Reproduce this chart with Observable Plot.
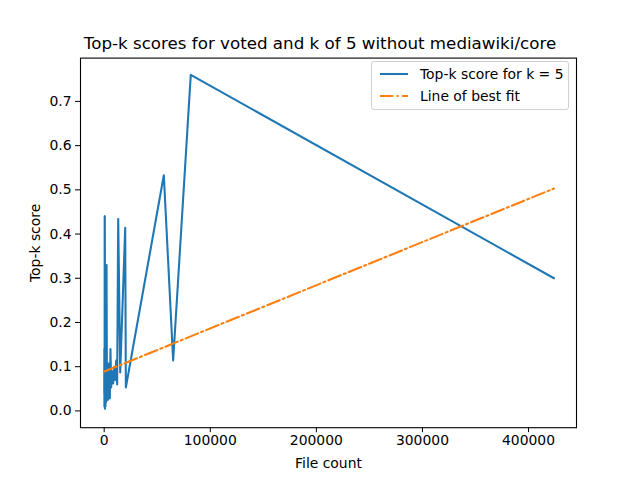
<!DOCTYPE html>
<html>
<head>
<meta charset="utf-8">
<script src="https://cdn.jsdelivr.net/npm/d3@7"></script>
<script src="https://cdn.jsdelivr.net/npm/@observablehq/plot@0.6"></script>
<style>
  body { margin: 0; background: white; font-family: "DejaVu Sans", sans-serif; }
  #wrap { position: relative; width: 640px; }
  #title { height: 50px; box-sizing: border-box; padding-top: 35px; text-align: center; font-size: 16.7px; line-height: 1; color: black; }
  #legend { position: absolute; left: 371px; top: 61px; width: 198px; height: 49px; box-sizing: border-box;
    border: 1px solid #d0d0d0; border-radius: 3px; background: rgba(255,255,255,0.8); font-size: 13.9px; color: black; }
  .row { position: absolute; left: 8px; display: flex; align-items: center; }
  .row span { margin-left: 12px; }
</style>
</head>
<body>
<div id="wrap">
  <div id="title">Top-k scores for voted and k of 5 without mediawiki/core</div>
  <div id="chart"></div>
  <div id="legend">
    <div class="row" style="top:4px"><svg width="28" height="16"><line x1="0" x2="28" y1="8" y2="8" stroke="#1f77b4" stroke-width="2.08"/></svg><span>Top-k score for k = 5</span></div>
    <div class="row" style="top:26px"><svg width="28" height="16"><line x1="0" x2="28" y1="8" y2="8" stroke="#ff7f0e" stroke-width="2.08" stroke-dasharray="13.3 3.3 2.1 3.3"/></svg><span>Line of best fit</span></div>
  </div>
</div>
<script>
// valeurs (nombre de fichiers -> score top-k)
const fileCounts = [50, 120, 200, 300, 380, 450, 520, 600, 700, 800, 900, 1000, 1200, 1500, 1900, 2200, 2600, 3000, 3500, 4000,
  4300, 4800, 5300, 5900, 6600, 7400, 8500, 9500, 10500, 11300, 12200, 13200, 15100, 19800, 20400, 56200, 65000, 81600, 424000]
const scores = [0.04, 0.14, 0.01, 0.12, 0.02, 0.44, 0.01, 0.44, 0.005, 0.06, 0.02, 0.09, 0.01, 0.07, 0.02, 0.33, 0.03, 0.09, 0.025, 0.107,
  0.03, 0.06, 0.028, 0.14, 0.053, 0.09, 0.062, 0.10, 0.07, 0.114, 0.06, 0.434, 0.087, 0.414, 0.053, 0.533, 0.114, 0.76, 0.30]

// droite de régression (extrémités lues)
const fitX = [50, 424000]
const fitY = [0.089, 0.503]

const xTicks = [0, 100000, 200000, 300000, 400000]
const yTicks = [0, 0.1, 0.2, 0.3, 0.4, 0.5, 0.6, 0.7]

const data = fileCounts.map((f, i) => ({files: f, score: scores[i]}))
const fit = fitX.map((f, i) => ({files: f, score: fitY[i]}))

let chart = Plot.plot({
  width: 640,
  height: 430,
  marginLeft: 80,
  marginRight: 64,
  marginTop: 7.6,
  marginBottom: 52.8,
  x: {domain: [-22340, 445210], ticks: xTicks, tickFormat: d3.format('d'), tickSize: 5, tickPadding: 2,
      label: 'File count', labelAnchor: 'center', labelArrow: 'none', labelOffset: 40},
  y: {domain: [-0.038, 0.798], ticks: yTicks, tickFormat: d3.format('.1f'), tickSize: 5, tickPadding: 4,
      label: 'Top-k score', labelAnchor: 'center', labelArrow: 'none', labelOffset: 50},
  style: {fontFamily: '"DejaVu Sans", sans-serif', fontSize: '13.9px', color: 'black', background: 'white', overflow: 'visible'},
  marks: [
    Plot.line(data, {x: 'files', y: 'score', stroke: '#1f77b4', strokeWidth: 2.08}),
    Plot.line(fit, {x: 'files', y: 'score', stroke: '#ff7f0e', strokeWidth: 2.08, strokeDasharray: '13.3 3.3 2.1 3.3'}),
    Plot.frame({stroke: 'black', strokeWidth: 1.1})
  ]
})
d3.select('#chart').append(() => chart)
</script>
</body>
</html>
